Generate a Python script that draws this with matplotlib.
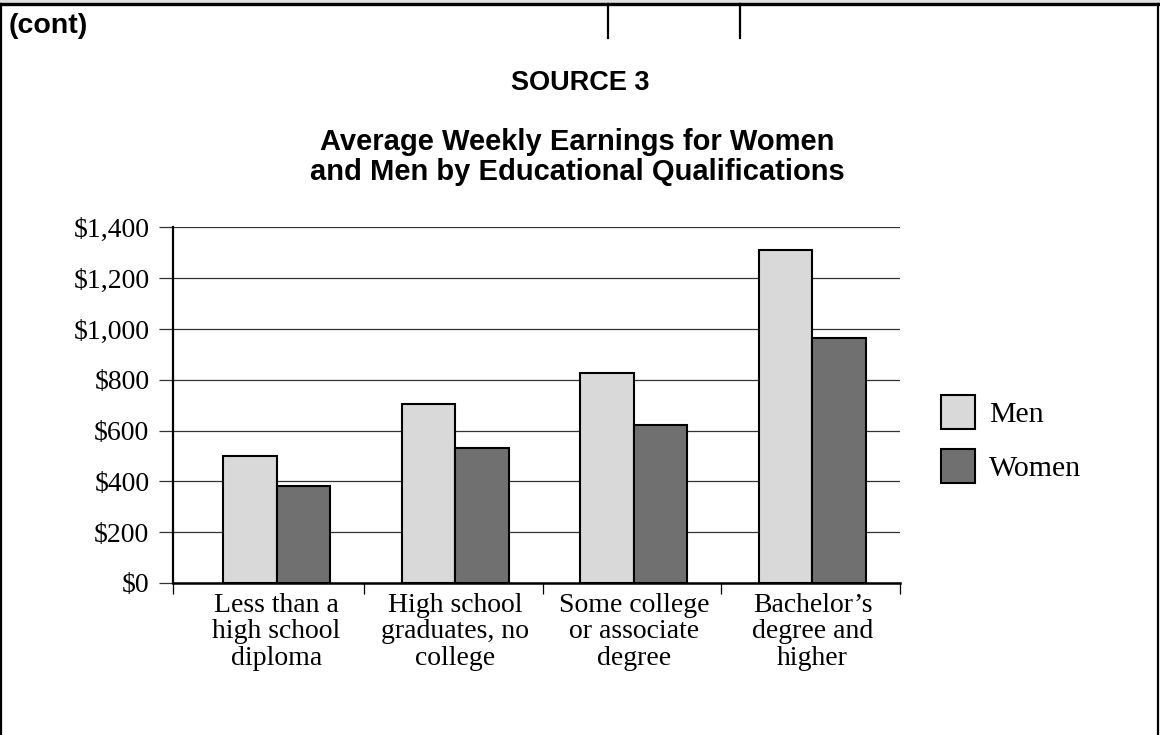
import matplotlib
matplotlib.use("Agg")
import matplotlib.pyplot as plt
from matplotlib.lines import Line2D
from matplotlib.patches import Rectangle

# weekly earnings by education level
categories = ["Less than a\nhigh school\ndiploma",
              "High school\ngraduates, no\ncollege",
              "Some college\nor associate\ndegree",
              "Bachelor\u2019s\ndegree and\nhigher"]
men = [500, 704, 826, 1312]
women = [383, 532, 620, 966]
yticks = [0, 200, 400, 600, 800, 1000, 1200, 1400]
ytick_labels = ["$0", "$200", "$400", "$600", "$800", "$1,000", "$1,200", "$1,400"]

W, H = 1160, 735
fig = plt.figure(figsize=(W / 100, H / 100), dpi=100)


def fx(px):
    return px / W


def fy(py):
    return 1 - py / H


# page frame around the source box
fig.add_artist(Rectangle((0, fy(3)), 1, 3 / H, transform=fig.transFigure,
                         facecolor="#e0e0e0", edgecolor="none"))
fig.add_artist(Line2D([0, 1], [fy(4), fy(4)], transform=fig.transFigure,
                      color="black", lw=2.4))
fig.add_artist(Line2D([fx(1), fx(1)], [fy(4), 0], transform=fig.transFigure,
                      color="black", lw=1.6))
fig.add_artist(Line2D([fx(1157.5), fx(1157.5)], [fy(4), 0], transform=fig.transFigure,
                      color="black", lw=1.6))
for xv in (608, 740):
    fig.add_artist(Line2D([fx(xv), fx(xv)], [fy(4), fy(38)], transform=fig.transFigure,
                          color="black", lw=1.6))

sans = "Liberation Sans"
serif = "Liberation Serif"

fig.text(fx(9), fy(26), "(cont)", fontsize=20.5, fontweight="bold", family=sans,
         ha="left", va="center")
fig.text(fx(580), fy(83), "SOURCE 3", fontsize=19.5, fontweight="bold", family=sans,
         ha="center", va="center")
fig.text(fx(577), fy(157), "Average Weekly Earnings for Women\nand Men by Educational Qualifications",
         fontsize=21, fontweight="bold", family=sans, ha="center", va="center",
         linespacing=1.12)

ax = fig.add_axes([fx(173), fy(583), fx(900) - fx(173), fy(227.3) - fy(583)])

x = list(range(len(categories)))
bw = 0.30
ax.bar([i - bw / 2 for i in x], men, width=bw, color="#d9d9d9", edgecolor="black",
       linewidth=1.5, label="Men", zorder=3)
ax.bar([i + bw / 2 for i in x], women, width=bw, color="#707070", edgecolor="black",
       linewidth=1.5, label="Women", zorder=3)

ax.set_xlim(-0.58, 3.49)
ax.set_ylim(0, 1400)

ax.set_yticks(yticks)
ax.set_yticklabels(ytick_labels, family=serif, fontsize=20)
ax.tick_params(axis="y", length=10, width=0.9, color="#333333", pad=7)
ax.yaxis.grid(True, color="#333333", linewidth=0.9, zorder=0)

ax.set_xticks(x)
ax.set_xticklabels(categories, family=serif, fontsize=20, linespacing=1.08)
ax.tick_params(axis="x", which="major", length=0, pad=7)
ax.set_xticks([-0.58, 0.49, 1.49, 2.49, 3.49], minor=True)
ax.tick_params(axis="x", which="minor", length=8, width=0.9, color="black")

for s in ("top", "right"):
    ax.spines[s].set_visible(False)
ax.spines["left"].set_linewidth(1.6)
ax.spines["bottom"].set_linewidth(1.8)
ax.set_axisbelow(True)

ax.legend(loc="center left", bbox_to_anchor=(fx(941), fy(439)),
          bbox_transform=fig.transFigure, frameon=False, borderpad=0,
          borderaxespad=0, handlelength=1.15, handleheight=1.35,
          handletextpad=0.45, labelspacing=0.7,
          prop={"family": serif, "size": 21.5})

fig.savefig("out.png", dpi=100)
